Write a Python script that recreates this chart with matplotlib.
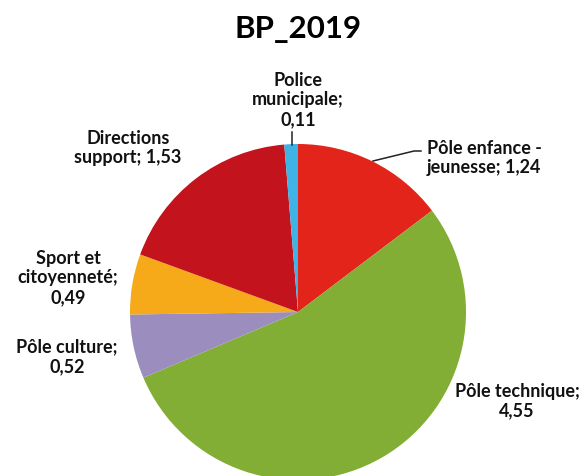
import matplotlib.pyplot as plt

# BP 2019 par pôle (en M€)
categories = ["Pôle enfance -\njeunesse", "Pôle technique", "Pôle culture",
              "Sport et\ncitoyenneté", "Directions\nsupport", "Police\nmunicipale"]
values = [1.24, 4.55, 0.52, 0.49, 1.53, 0.11]
value_labels = ["1,24", "4,55", "0,52", "0,49", "1,53", "0,11"]
colors = ["#E2241B", "#82AE35", "#9B8EBF", "#F6AA1A", "#C3131D", "#3FB2E6"]

plt.rcParams['font.family'] = ['Lato', 'DejaVu Sans']

fig = plt.figure(figsize=(5.83, 4.77), dpi=100)
W, H = 583, 477

# position du camembert (centre ~ (298, 313) px, rayon 168 px)
cx, cy, r = 298, 313, 168
ax = fig.add_axes([(cx - r) / W, (H - cy - r) / H, 2 * r / W, 2 * r / H])
ax.pie(values, colors=colors, startangle=90, counterclock=False,
       wedgeprops=dict(linewidth=0))
ax.set_xlim(-1, 1)
ax.set_ylim(-1, 1)
ax.set_aspect('equal')
ax.axis('off')

fig.text(298 / W, 1 - 29 / H, "BP_2019", ha='center', va='center',
         fontsize=22.5, fontweight='bold')


def label(i, x, y, nl=False):
    txt = categories[i] + ";" + ("\n" if nl else " ") + value_labels[i]
    fig.text(x / W, 1 - y / H, txt, ha='center', va='center', fontsize=13,
             fontweight='bold', linespacing=1.2, color='#111111')


label(0, 484, 158)
label(1, 517, 401, nl=True)
label(2, 67, 357, nl=True)
label(3, 68, 278, nl=True)
label(4, 128, 148)
label(5, 298, 100, nl=True)

# traits de rappel
def px_line(xs, ys):
    fig.add_artist(plt.Line2D([x / W for x in xs], [1 - y / H for y in ys],
                              color='#222222', lw=1.1))


px_line([292, 292], [133, 146])
px_line([373, 414, 421], [162, 152, 152])

fig.savefig("out.png", dpi=100, facecolor='white')
